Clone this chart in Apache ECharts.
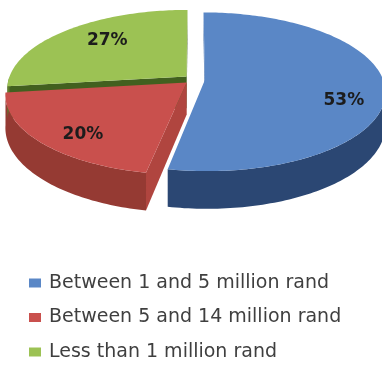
<!DOCTYPE html>
<html>
<head>
<meta charset="utf-8">
<script src="https://cdn.jsdelivr.net/npm/echarts@6/dist/echarts.min.js"></script>
<style>
  html, body { margin: 0; padding: 0; background: #ffffff; }
  #chart { width: 382px; height: 367px; }
</style>
</head>
<body>
<div id="chart"></div>
<script>
// Turnover bands and their share of respondents (%)
const categories = [
  'Between 1 and 5 million rand',
  'Between 5 and 14 million rand',
  'Less than 1 million rand'
];
const shares = [53, 20, 27];

// Face colours for each slice: top, outer wall, cut face
const topColors  = ['#5a87c6', '#c9504d', '#9cc254'];
const wallColors = ['#2b4773', '#953a33', '#5d7a2c'];
const cutColors  = ['#4a74ae', '#b0453f', '#42601f'];

// Tilted, slightly perspective pie (pixels)
const CX = 194, CY = 79.4;     // screen position of the pie axis
const R = 178;                 // radius on the ground plane
const Q = 0.435;               // vertical squash of the ground plane
const K = 0.15;                // perspective strength
const DEPTH = 32;              // wall height
const explode = [11, 10, 10];  // pull-out distance per slice
const labelRadius = [0.79, 0.8, 0.7];
const labelTurn = [13.6, -6, 4.8];   // degrees

const total = shares.reduce((a, b) => a + b, 0);

function sliceAngles(i) {
  let before = 0;
  for (let k = 0; k < i; k++) before += shares[k];
  return [
    before / total * Math.PI * 2,
    (before + shares[i]) / total * Math.PI * 2
  ];
}

// Ground (u to the right, v toward the viewer, h downward) -> screen
function project(u, v, h) {
  const s = 1 / (1 - K * v / R);
  return [CX + u * s, CY + (Q * v + h) * s];
}

function renderSlice(params, api) {
  const i = params.seriesIndex;
  const value = api.value(0);
  const [start, end] = sliceAngles(i);
  const mid = (start + end) / 2;
  const uc = explode[i] * Math.sin(mid);
  const vc = -explode[i] * Math.cos(mid);
  const rim = (a, h, r) => project(
    uc + (r === undefined ? R : r) * Math.sin(a),
    vc - (r === undefined ? R : r) * Math.cos(a),
    h || 0
  );
  const c = project(uc, vc, 0);
  const cBottom = project(uc, vc, DEPTH);
  const children = [];

  const arc = (a0, a1, h) => {
    const n = Math.max(2, Math.ceil((a1 - a0) / 0.02));
    const pts = [];
    for (let k = 0; k <= n; k++) pts.push(rim(a0 + (a1 - a0) * k / n, h));
    return pts;
  };

  // Radial cut faces turned toward the camera
  const camV = R / K;
  const cutFace = (a, normal) => {
    const facing = -uc * Math.sin(normal) + (camV - vc) * (-Math.cos(normal));
    if (facing > 1e-3) {
      children.push({
        type: 'polygon',
        z2: 1 + (1 - Math.cos(a)) / 4,
        shape: { points: [c, rim(a), rim(a, DEPTH), cBottom] },
        style: { fill: cutColors[i] }
      });
    }
  };
  cutFace(start, start - Math.PI / 2);
  cutFace(end, end + Math.PI / 2);

  // Outer wall on the near half
  const w0 = Math.max(start, Math.PI / 2);
  const w1 = Math.min(end, Math.PI * 3 / 2);
  if (w1 > w0) {
    children.push({
      type: 'polygon', z2: 2,
      shape: { points: arc(w0, w1, 0).concat(arc(w0, w1, DEPTH).reverse()) },
      style: { fill: wallColors[i] }
    });
  }

  // Top face
  children.push({
    type: 'polygon', z2: 3,
    shape: { points: [c].concat(arc(start, end, 0)) },
    style: { fill: topColors[i] }
  });

  // Percentage label
  const la = mid + labelTurn[i] * Math.PI / 180;
  const lp = rim(la, 0, R * labelRadius[i]);
  children.push({
    type: 'text', z2: 10,
    style: {
      text: Math.round(value / total * 100) + '%',
      x: lp[0],
      y: lp[1],
      align: 'center',
      verticalAlign: 'middle',
      font: 'bold 17px "DejaVu Sans"',
      fill: '#1c1c1c'
    }
  });

  return { type: 'group', children };
}

const chart = echarts.init(document.getElementById('chart'));
chart.setOption({
  animation: false,
  legend: {
    orient: 'vertical',
    left: 29,
    top: 273,
    padding: 0,
    icon: 'rect',
    itemWidth: 12,
    itemHeight: 9,
    itemGap: 14.5,
    data: categories,
    textStyle: {
      fontFamily: 'DejaVu Sans',
      fontSize: 19,
      lineHeight: 20,
      padding: [0, 0, 0, 3],
      color: '#3f3f3f'
    }
  },
  series: categories.map((name, i) => ({
    type: 'custom',
    name,
    coordinateSystem: 'none',
    itemStyle: { color: topColors[i] },
    data: [shares[i]],
    renderItem: renderSlice
  }))
});
</script>
</body>
</html>
